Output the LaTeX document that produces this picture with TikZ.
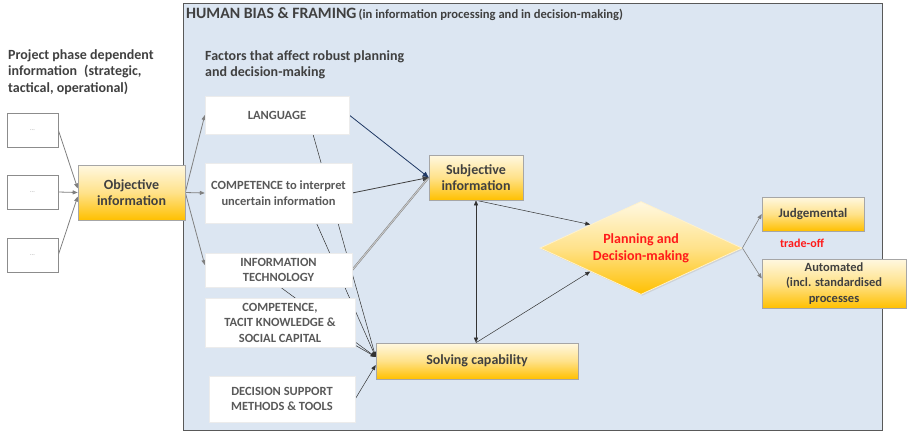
\documentclass[tikz,border=0pt]{standalone}
\usepackage{fontspec}
\setmainfont{Carlito}
\usetikzlibrary{shapes.geometric,shadows,arrows.meta,calc}
\definecolor{panelfill}{HTML}{DCE6F2}
\definecolor{panelline}{HTML}{595959}
\definecolor{txtgray}{HTML}{404040}
\definecolor{ftxt}{HTML}{595959}
\definecolor{ytop}{HTML}{FFF8E1}
\definecolor{ymid}{HTML}{FFE28A}
\definecolor{ybot}{HTML}{FFC000}
\definecolor{ybord}{HTML}{A6A6A6}
\definecolor{conngray}{HTML}{808080}
\definecolor{navy}{HTML}{1F3864}
\definecolor{dred}{HTML}{FF1A1A}
\pgfdeclarelayer{panellayer}
\pgfdeclarelayer{linelayer}
\pgfsetlayers{panellayer,linelayer,main}
\begin{document}
\begin{tikzpicture}[x=1pt,y=-1pt,
  bigtxt/.style={text=txtgray,font=\bfseries\fontsize{14}{16.5}\selectfont},
  ybox/.style={draw=ybord,line width=0.6pt,top color=ytop,bottom color=ybot,middle color=ymid,
    drop shadow={shadow xshift=1.3pt,shadow yshift=-1.3pt,fill=black!35},
    inner sep=0pt,align=center,text=txtgray},
  ytxt/.style={font=\bfseries\fontsize{14}{16}\selectfont},
  stxt/.style={font=\bfseries\fontsize{12.5}{15.5}\selectfont},
  fbox/.style={fill=white,draw=white!85!gray,line width=0.4pt,inner sep=0pt,align=center,
    text=ftxt,font=\bfseries\fontsize{12.5}{15.5}\selectfont},
  dbox/.style={fill=white,draw=black!45,line width=0.6pt,inner sep=0pt,
    minimum width=51pt,minimum height=34pt,text=black!40,font=\fontsize{6}{7}\selectfont,
    drop shadow={shadow xshift=1pt,shadow yshift=-1pt,fill=black!25}},
  garrow/.style={draw=conngray,line width=0.8pt,-{Triangle[length=5pt,width=4pt]}},
  navyarrow/.style={draw=navy,line width=0.8pt,-{Triangle[length=6pt,width=5pt]}},
  karrow/.style={draw=black!80,line width=0.5pt,-{Triangle[length=5pt,width=4pt]}},
  dblline/.style={draw=black!50,double=black!20,double distance=0.9pt,line width=0.5pt},
]
\useasboundingbox (0,0) rectangle (907,432);
% panel
\begin{pgfonlayer}{panellayer}
\node[fill=panelfill,draw=panelline,line width=0.8pt,minimum width=699pt,minimum height=427pt,inner sep=0pt] (panel) at (532.5,216.5) {};
\end{pgfonlayer}
% texts
\node[anchor=west,inner sep=0pt,text=txtgray,font=\bfseries] (title) at (186,14)
  {{\fontsize{15.8}{18}\selectfont HUMAN BIAS \& FRAMING} {\fontsize{12.6}{14}\selectfont (in information processing and in decision-making)}};
\node[bigtxt,anchor=north west,inner sep=0pt,align=left] (phase) at (8,49)
  {Project phase dependent\\information\enspace(strategic,\\tactical, operational)};
\node[bigtxt,anchor=north west,inner sep=0pt,align=left] (factors) at (205,50)
  {Factors that affect robust planning\\and decision-making};
% dot boxes
\node[dbox] (d1) at (32.5,130) {...};
\node[dbox] (d2) at (32.5,192) {...};
\node[dbox] (d3) at (32.5,255) {...};
% objective
\node[ybox,ytxt,minimum width=107pt,minimum height=55pt] (obj) at (131.5,192.5) {Objective\\information};
% factor boxes
\node[fbox,minimum width=144pt,minimum height=38pt] (lang) at (277,115) {LANGUAGE};
\node[fbox,minimum width=147pt,minimum height=60pt] (comp) at (278.5,193) {COMPETENCE to interpret\\uncertain information};
\node[fbox,minimum width=147pt,minimum height=34pt] (it) at (278.5,270) {INFORMATION\\TECHNOLOGY};
\node[fbox,minimum width=150pt,minimum height=49pt] (tacit) at (280,322.5) {COMPETENCE,\\TACIT KNOWLEDGE \&\\SOCIAL CAPITAL};
\node[fbox,minimum width=146pt,minimum height=46pt] (dss) at (282,399) {DECISION SUPPORT\\METHODS \& TOOLS};
% yellow boxes
\node[ybox,ytxt,minimum width=94pt,minimum height=45pt] (subj) at (476,177.5) {Subjective\\information};
\node[ybox,ytxt,minimum width=202pt,minimum height=36pt] (solv) at (477,361) {Solving capability};
\node[diamond,aspect=2.2,draw=white!80!ybot,line width=0.8pt,top color=ytop,bottom color=ybot,middle color=ymid,
  drop shadow={shadow xshift=1.3pt,shadow yshift=-1.3pt,fill=black!25},
  inner sep=0pt,minimum width=202pt,minimum height=93pt,align=center,text=dred,
  font=\bfseries\fontsize{14}{17}\selectfont] (plan) at (641,248) {Planning and\\Decision-making};
\node[ybox,font=\bfseries\fontsize{13}{15}\selectfont,minimum width=102pt,minimum height=34pt] (judg) at (813,214) {Judgemental};
\node[ybox,stxt,minimum width=144pt,minimum height=49pt] (auto) at (834,283.5) {Automated\\(incl. standardised\\processes};
\node[inner sep=0pt,text=dred,font=\bfseries\fontsize{12}{14}\selectfont] (trade) at (802,243) {trade-off};
% connectors
\begin{pgfonlayer}{linelayer}
\draw[garrow] (d1.east) -- ([yshift=4pt]obj.west);
\draw[garrow] (d2.east) -- (obj.west);
\draw[garrow] (d3.east) -- ([yshift=-4pt]obj.west);
\draw[garrow] (obj.east) -- (lang.west);
\draw[garrow] (obj.east) -- (comp.west);
\draw[garrow] (obj.east) -- ([yshift=5pt]it.west);
\draw[dblline] (it.east) -- (subj.west);
\draw[navyarrow,draw=black!75] (comp.east) -- (subj.west);
\draw[navyarrow] (lang.east) -- (subj.west);
\draw[karrow] ([xshift=36pt]lang.south) -- ([yshift=4pt]solv.west);
\draw[karrow] ([xshift=38pt]comp.south) -- ([yshift=4pt]solv.west);
\draw[karrow] ([xshift=2pt]it.south) -- ([yshift=4pt]solv.west);
\draw[karrow] ([yshift=2pt]tacit.south east) -- ([yshift=4pt]solv.west);
\draw[karrow] (dss.east) -- ([yshift=-4pt]solv.west);
\draw[karrow,{Triangle[length=5pt,width=4pt]}-{Triangle[length=5pt,width=4pt]}] (subj.south) -- (subj.south |- solv.north);
\draw[karrow] (subj.south) -- (plan.north west);
\draw[karrow] (subj.south |- solv.north) -- (plan.south west);
\draw[garrow,line width=0.6pt] (plan.east) -- (judg.west);
\draw[garrow,line width=0.6pt] (plan.east) -- ([yshift=5pt]auto.west);
\end{pgfonlayer}
\end{tikzpicture}
\end{document}
